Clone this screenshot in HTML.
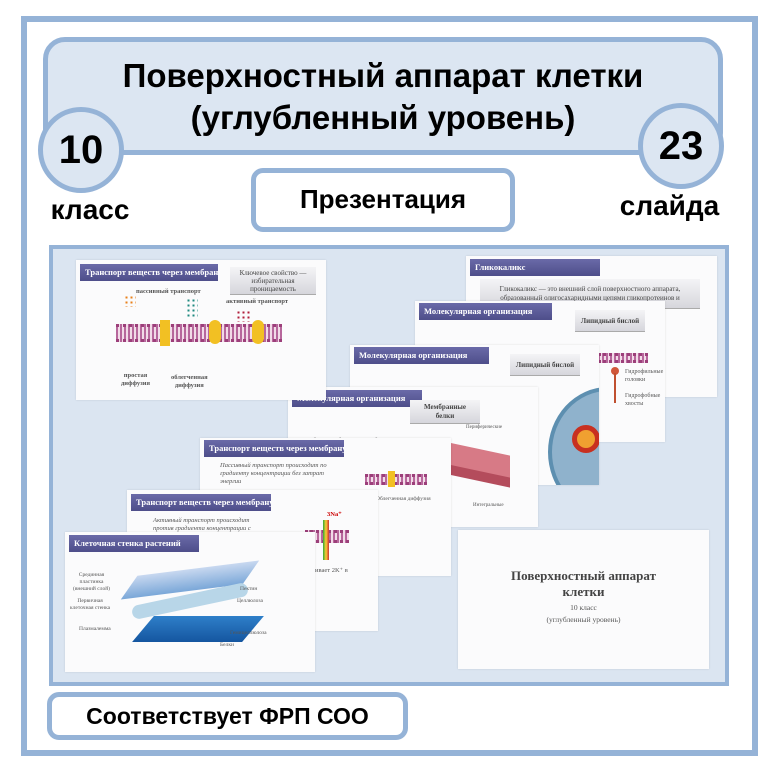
<!DOCTYPE html>
<html><head><meta charset="utf-8"><style>
*{margin:0;padding:0;box-sizing:border-box}
body{width:771px;height:771px;background:#fff;position:relative;overflow:hidden;font-family:"Liberation Sans",sans-serif}
.a{position:absolute}
.frame{left:21px;top:16px;width:737px;height:740px;border:6px solid #95b3d7;background:#fff}
.title{left:43px;top:37px;width:680px;height:118px;border:5px solid #95b3d7;border-radius:22px;background:#dce6f2}
.circ{width:86px;height:86px;border-radius:50%;border:5px solid #95b3d7;background:#dce6f2;font-weight:bold;font-size:40px;text-align:center;line-height:76px}
.box{border:5px solid #95b3d7;border-radius:12px;background:#fff;font-weight:bold;text-align:center}
.big{font-weight:bold;color:#000;text-align:center}
.panel{left:49px;top:245px;width:680px;height:441px;border:4px solid #95b3d7;background:#dbe5f1}
.s{background:#fbfbfc;overflow:hidden;box-shadow:0 0 2px rgba(0,0,0,.12)}
.h{position:absolute;height:17px;background:linear-gradient(#6a6aa8,#4e4e8a);color:#fff;font:bold 8.5px "Liberation Serif",serif;line-height:17px;padding-left:5px;white-space:nowrap;overflow:hidden}
.g{position:absolute;background:linear-gradient(#f4f4f6,#d6d6dc);border-bottom:1px solid #aaa;color:#444;font:bold 7px "Liberation Serif",serif;text-align:center;display:flex;align-items:center;justify-content:center}
.t{position:absolute;font:6.5px "Liberation Serif",serif;color:#555;white-space:nowrap}
.mem{position:absolute;background:repeating-linear-gradient(90deg,#b7679c 0 2px,#f2dbe8 2px 4px);border-top:3px dotted #9c3f7a;border-bottom:3px dotted #9c3f7a}
</style></head><body>
<div class="a frame"></div>
<div class="a title"></div>
<div class="a big" style="left:43px;top:55px;width:680px;font-size:33px;line-height:42px">Поверхностный аппарат клетки<br>(углубленный уровень)</div>
<div class="a circ" style="left:38px;top:107px">10</div>
<div class="a circ" style="left:638px;top:103px">23</div>
<div class="a big" style="left:40px;top:194px;width:100px;font-size:28px">класс</div>
<div class="a big" style="left:612px;top:190px;width:115px;font-size:28px">слайда</div>
<div class="a box" style="left:251px;top:168px;width:264px;height:64px;font-size:26px;line-height:52px">Презентация</div>
<div class="a panel"></div>

<!-- Glycocalyx -->
<div class="a s" style="left:466px;top:256px;width:251px;height:141px">
 <div class="h" style="left:4px;top:3px;width:130px">Гликокаликс</div>
 <div class="g" style="left:14px;top:23px;width:220px;height:30px;font-weight:normal;line-height:9px">Гликокаликс — это внешний слой поверхностного аппарата,<br>образованный олигосахаридными цепями гликопротеинов и</div>
</div>
<!-- Mol1 -->
<div class="a s" style="left:415px;top:301px;width:250px;height:141px">
 <div class="h" style="left:4px;top:2px;width:133px">Молекулярная организация</div>
 <div class="g" style="left:160px;top:9px;width:70px;height:22px">Липидный бислой</div>
 <div class="mem" style="left:183px;top:52px;width:50px;height:10px"></div>
 <div class="a" style="left:196px;top:66px;width:8px;height:8px;border-radius:50%;background:#d0573a"></div>
 <div class="a" style="left:199px;top:72px;width:2px;height:30px;background:#c05030"></div>
 <div class="t" style="left:210px;top:67px;line-height:8px;font-size:6px">Гидрофильные<br>головки<br><br>Гидрофобные<br>хвосты</div>
</div>
<!-- Mol2 -->
<div class="a s" style="left:350px;top:345px;width:249px;height:140px">
 <div class="h" style="left:4px;top:2px;width:135px">Молекулярная организация</div>
 <div class="g" style="left:160px;top:9px;width:70px;height:22px">Липидный бислой</div>
 <div class="a" style="left:198px;top:42px;width:120px;height:130px;border-radius:50%;background:#8fb2cc;border:4px solid #5d8fb0"></div>
 <div class="a" style="left:222px;top:80px;width:28px;height:28px;border-radius:50%;background:#f0a030;border:5px solid #c83020"></div>
</div>
<!-- Membrane proteins -->
<div class="a s" style="left:288px;top:387px;width:250px;height:140px">
 <div class="h" style="left:4px;top:3px;width:130px">Молекулярная организация</div>
 <div class="g" style="left:122px;top:13px;width:70px;height:24px;line-height:9px">Мембранные<br>белки</div>
 <div class="t" style="left:12px;top:50px;line-height:8px">Мембранные белки — это белки, которые<br>прочно ассоциированы с липидным бислоем и</div>
 <div class="a" style="left:160px;top:62px;width:62px;height:26px;background:#d77a86;transform:skewY(12deg)"></div>
 <div class="a" style="left:160px;top:84px;width:62px;height:10px;background:#b44c5c;transform:skewY(12deg)"></div>
 <div class="t" style="left:178px;top:38px;font-size:5px">Периферические</div>
 <div class="t" style="left:185px;top:116px;font-size:5px">Интегральные</div>
</div>
<!-- Slide 1 -->
<div class="a s" style="left:76px;top:260px;width:250px;height:140px">
 <div class="h" style="left:4px;top:4px;width:138px">Транспорт веществ через мембрану</div>
 <div class="g" style="left:154px;top:7px;width:86px;height:28px;font-weight:normal;line-height:8px">Ключевое свойство —<br>избирательная<br>проницаемость</div>
 <div class="t" style="left:60px;top:28px;font-weight:bold">пассивный транспорт</div>
 <div class="t" style="left:150px;top:38px;font-weight:bold">активный транспорт</div>
 <div class="mem" style="left:40px;top:64px;width:166px;height:18px"></div>
 <div class="a" style="left:84px;top:60px;width:10px;height:26px;background:#f2c023"></div>
 <div class="a" style="left:133px;top:60px;width:12px;height:24px;border-radius:6px;background:#f2c023"></div>
 <div class="a" style="left:176px;top:60px;width:12px;height:24px;border-radius:6px;background:#f2c023"></div>
 <div class="a" style="left:48px;top:35px;width:12px;height:12px;background:radial-gradient(#e8801a 30%,transparent 35%) 0 0/5px 5px"></div>
 <div class="a" style="left:160px;top:50px;width:14px;height:12px;background:radial-gradient(#b01e3a 30%,transparent 35%) 0 0/5px 5px"></div>
 <div class="a" style="left:110px;top:38px;width:12px;height:20px;background:radial-gradient(#1f8a80 30%,transparent 35%) 0 0/5px 5px"></div>
 <div class="t" style="left:45px;top:112px;font-weight:bold;line-height:8px;text-align:center">простая<br>диффузия</div>
 <div class="t" style="left:95px;top:114px;font-weight:bold;line-height:8px;text-align:center">облегченная<br>диффузия</div>
</div>
<!-- T2 -->
<div class="a s" style="left:200px;top:438px;width:251px;height:138px">
 <div class="h" style="left:4px;top:2px;width:140px">Транспорт веществ через мембрану</div>
 <div class="t" style="left:20px;top:24px;line-height:8px;font-style:italic">Пассивный транспорт происходит по<br>градиенту концентрации без затрат<br>энергии</div>
 <div class="mem" style="left:165px;top:36px;width:62px;height:11px"></div>
 <div class="a" style="left:188px;top:33px;width:7px;height:16px;background:#f2c023"></div>
 <div class="t" style="left:176px;top:58px;font-size:5.5px">Облегченная диффузия</div>
</div>
<!-- T3 -->
<div class="a s" style="left:127px;top:490px;width:251px;height:141px">
 <div class="h" style="left:4px;top:4px;width:140px">Транспорт веществ через мембрану</div>
 <div class="t" style="left:26px;top:27px;line-height:8px;font-style:italic">Активный транспорт происходит<br>против градиента концентрации с</div>
 <div class="mem" style="left:178px;top:40px;width:44px;height:13px"></div>
 <div class="a" style="left:196px;top:30px;width:6px;height:40px;background:linear-gradient(90deg,#3a3,#fc3,#c33)"></div>
 <div class="t" style="left:200px;top:20px;color:#c00;font-weight:bold">3Na⁺</div>
 <div class="t" style="left:188px;top:76px">ивает 2K⁺ в</div>
</div>
<!-- Cell wall -->
<div class="a s" style="left:65px;top:532px;width:250px;height:140px">
 <div class="h" style="left:4px;top:3px;width:130px">Клеточная стенка растений</div>
 <div class="a" style="left:70px;top:36px;width:110px;height:24px;background:linear-gradient(#c8d8f0,#7aa7d8);transform:skewX(-40deg) rotate(-8deg)"></div>
 <div class="a" style="left:66px;top:62px;width:118px;height:14px;background:#b8d6e8;border-radius:7px;transform:rotate(-12deg)"></div>
 <div class="a" style="left:78px;top:84px;width:110px;height:26px;background:linear-gradient(#2e7fc9,#1556a0);transform:skewX(-40deg)"></div>
 <div class="t" style="left:8px;top:40px;font-size:5.5px;line-height:7px;text-align:center">Срединная<br>пластинка<br>(внешний слой)</div>
 <div class="t" style="left:5px;top:66px;font-size:5.5px;line-height:7px;text-align:center">Первичная<br>клеточная стенка</div>
 <div class="t" style="left:14px;top:94px;font-size:5.5px">Плазмалемма</div>
 <div class="t" style="left:175px;top:54px;font-size:5.5px">Пектин</div>
 <div class="t" style="left:172px;top:66px;font-size:5.5px">Целлюлоза</div>
 <div class="t" style="left:165px;top:98px;font-size:5.5px">Гемицеллюлоза</div>
 <div class="t" style="left:155px;top:110px;font-size:5.5px">Белки</div>
</div>
<!-- Title slide -->
<div class="a s" style="left:458px;top:530px;width:251px;height:139px;text-align:center">
 <div style="margin-top:38px;font:bold 13px/16px 'Liberation Serif',serif;color:#444">Поверхностный аппарат<br>клетки</div>
 <div style="font:7.5px/12px 'Liberation Serif',serif;color:#555;margin-top:2px">10 класс<br>(углубленный уровень)</div>
</div>

<div class="a box" style="left:47px;top:692px;width:361px;height:48px;font-size:23px;line-height:38px">Соответствует ФРП СОО</div>
</body></html>
